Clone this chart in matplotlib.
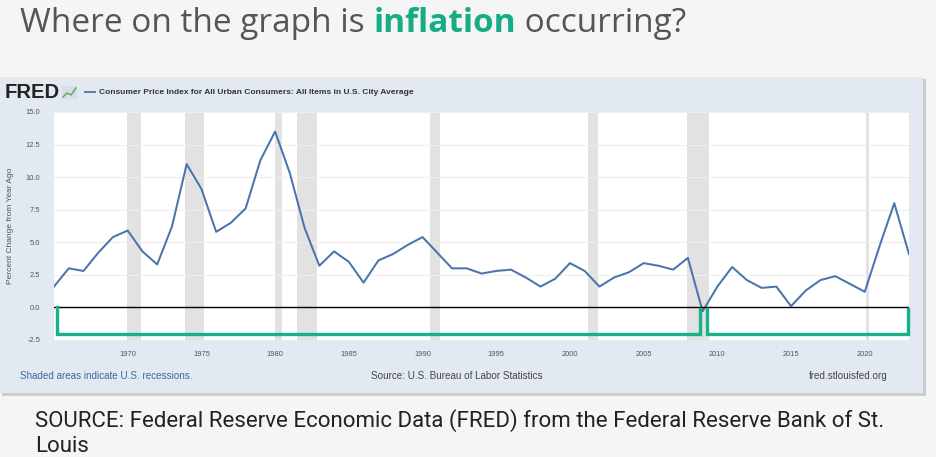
import matplotlib
matplotlib.use("Agg")
import matplotlib.pyplot as plt
from matplotlib.patches import Rectangle
from matplotlib.lines import Line2D

# ---------------- data ----------------
years = list(range(1965, 2024))
cpi_yoy = [1.6, 3.0, 2.8, 4.2, 5.4, 5.9, 4.3, 3.3, 6.2, 11.0,
           9.1, 5.8, 6.5, 7.6, 11.3, 13.5, 10.3, 6.1, 3.2, 4.3,
           3.5, 1.9, 3.6, 4.1, 4.8, 5.4, 4.2, 3.0, 3.0, 2.6,
           2.8, 2.9, 2.3, 1.6, 2.2, 3.4, 2.8, 1.6, 2.3, 2.7,
           3.4, 3.2, 2.9, 3.8, -0.3, 1.6, 3.1, 2.1, 1.5, 1.6,
           0.1, 1.3, 2.1, 2.4, 1.8, 1.2, 4.7, 8.0, 4.1]
rec_start = [1969.92, 1973.87, 1980.0, 1981.5, 1990.5, 2001.2, 2007.92, 2020.08]
rec_end   = [1970.87, 1975.2, 1980.5, 1982.87, 1991.2, 2001.87, 2009.45, 2020.3]
xticks = [1970, 1975, 1980, 1985, 1990, 1995, 2000, 2005, 2010, 2015, 2020]
yticks = [-2.5, 0.0, 2.5, 5.0, 7.5, 10.0, 12.5, 15.0]
bracket1_x = [1965.18, 1965.18, 2008.8, 2008.8]
bracket1_y = [0.0, -2.05, -2.05, -0.1]
bracket2_x = [2009.3, 2009.3, 2022.93, 2022.93]
bracket2_y = [-0.1, -2.05, -2.05, -0.1]

series_name = "Consumer Price Index for All Urban Consumers: All Items in U.S. City Average"

W, H = 936, 457
fig = plt.figure(figsize=(W / 100, H / 100), dpi=100)
fig.patch.set_facecolor("#f6f5f5")

def fx(px):
    return px / W

def fy(py):
    return 1 - py / H

# panel with shadow
fig.patches.append(Rectangle((fx(2), fy(396)), fx(924), (396 - 79) / H,
                             transform=fig.transFigure, facecolor="#c9ccd0",
                             edgecolor="none", zorder=-2))
fig.patches.append(Rectangle((0, fy(393)), fx(923), (393 - 77) / H,
                             transform=fig.transFigure, facecolor="#e2e9f1",
                             edgecolor="none", zorder=-1))

# axes
ax = fig.add_axes([fx(54), fy(340), fx(909 - 54), (340 - 112) / H])
ax.set_zorder(2)
ax.set_facecolor("white")
for s in ax.spines.values():
    s.set_visible(False)

for a, b in zip(rec_start, rec_end):
    ax.axvspan(a, b, color="#e2e2e2", lw=0, zorder=0.5)

ax.set_yticks(yticks)
ax.yaxis.grid(True, color="#eeeeee", lw=0.8, zorder=0.6)
ax.set_axisbelow(True)
ax.plot(years, cpi_yoy, color="#4a74ad", lw=1.45, zorder=3)

ax.set_xlim(1965, 2023)
ax.set_ylim(-2.5, 15)
ax.set_xticks(xticks)
ax.set_xticklabels([str(x) for x in xticks])
ax.set_yticklabels([f"{v:.1f}" for v in yticks])
ax.tick_params(axis="both", length=0, labelsize=5.4, labelcolor="#555555")
ax.tick_params(axis="y", pad=10)
ax.tick_params(axis="x", pad=8)
for lab in ax.get_xticklabels() + ax.get_yticklabels():
    lab.set_family("Liberation Sans")
ax.set_ylabel("Percent Change from Year Ago", fontsize=6.0, color="#555555",
              family="Liberation Sans", labelpad=8)

# annotations drawn over the chart
ax.axhline(0, color="black", lw=1.0, zorder=4)
ax.plot(bracket1_x, bracket1_y, color="#17b28a", lw=2.4, zorder=5,
        solid_joinstyle="miter", clip_on=False)
ax.plot(bracket2_x, bracket2_y, color="#17b28a", lw=2.4, zorder=5,
        solid_joinstyle="miter", clip_on=False)

# header: FRED logo + legend
fig.text(fx(5), fy(92), "FRED", fontsize=14.6, fontweight="bold", color="#222222",
         family="Liberation Sans", va="center", ha="left")
# tiny logo icon
fig.patches.append(Rectangle((fx(62), fy(99)), fx(15), 13 / H, transform=fig.transFigure,
                             facecolor="#d8dde3", edgecolor="none"))
fig.lines.append(Line2D([fx(63), fx(67), fx(71), fx(76)], [fy(97), fy(93), fy(95), fy(88)],
                        transform=fig.transFigure, color="#5aa65a", lw=1.0))
fig.lines.append(Line2D([fx(85), fx(95)], [fy(91.5), fy(91.5)], transform=fig.transFigure,
                        color="#4a74ad", lw=1.3))
fig.text(fx(99), fy(92), series_name, fontsize=6.05, fontweight="bold", color="#333333",
         family="Liberation Sans", va="center", ha="left")

# footer inside panel
fig.text(fx(20), fy(376), "Shaded areas indicate U.S. recessions.", fontsize=7.1,
         color="#3a69a6", family="Liberation Sans", va="center", ha="left")
fig.text(fx(371), fy(376), "Source: U.S. Bureau of Labor Statistics", fontsize=7.1,
         color="#444444", family="Liberation Sans", va="center", ha="left")
fig.text(fx(888), fy(376), "fred.stlouisfed.org", fontsize=7.1,
         color="#444444", family="Liberation Sans", va="center", ha="right")

# slide title (mixed colors)
fig.canvas.draw()
renderer = fig.canvas.get_renderer()
x = fx(20)
parts = [("Where on the graph is ", "#555555", "normal"),
         ("inflation", "#16ad86", "bold"),
         (" occurring?", "#555555", "normal")]
for txt, col, wt in parts:
    t = fig.text(x, fy(23), txt, fontsize=24, color=col, fontweight=wt,
                 family="Open Sans", va="center", ha="left")
    bb = t.get_window_extent(renderer=renderer)
    x += bb.width / W

# slide source text
fig.text(fx(35), fy(421), "SOURCE: Federal Reserve Economic Data (FRED) from the Federal Reserve Bank of St.",
         fontsize=16, color="#222222", family="Roboto", va="center", ha="left")
fig.text(fx(35), fy(446), "Louis", fontsize=16, color="#222222", family="Roboto",
         va="center", ha="left")

fig.savefig("out.png", dpi=100, facecolor=fig.get_facecolor())
